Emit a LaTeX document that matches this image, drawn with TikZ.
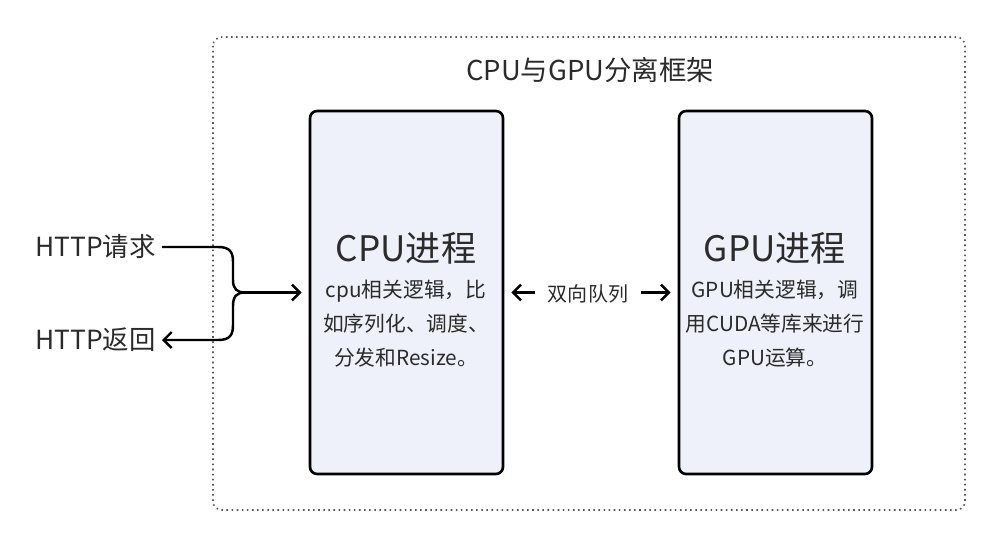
\documentclass[tikz,border=0pt]{standalone}
\usepackage{fontspec}
\setmainfont{Noto Sans CJK SC}
\usetikzlibrary{arrows.meta,positioning,calc}

\definecolor{procfill}{HTML}{EEF0FA}
\definecolor{txt}{HTML}{2B2B2B}

\tikzset{
    proc/.style={draw=black, line width=1.5pt, rounded corners=4pt, fill=procfill,
        minimum width=3.86cm, minimum height=7.26cm},
    conn/.style={line width=1.4pt, -{Straight Barb[length=4.5pt,width=9pt]}},
    link/.style={line width=1.4pt},
    frame/.style={draw=black!65, dotted, line width=0.9pt, rounded corners=5pt},
}

\begin{document}
\begin{tikzpicture}[x=0.02cm, y=-0.02cm, text=txt]
        \useasboundingbox (0,0) rectangle (999,547);

        % outer frame
        \draw[frame] (213,37) rectangle (965,510);
        \node [font=\fontsize{15.6}{18}\selectfont] (title) at (590,70) {CPU与GPU分离框架};

        % process boxes
        \node [proc] (cpu) at (406.5,292.5) {};
        \node [proc] (gpu) at (775.5,292.5) {};

        \node [font=\fontsize{20}{24}\selectfont] (cputitle) at (406,248) {CPU进程};
        \node [font=\fontsize{11.8}{19.3}\selectfont, align=center] (cputext) at (406,324)
            {cpu相关逻辑，比\\如序列化、调度、\\分发和Resize。};
        \node [font=\fontsize{20}{24}\selectfont] (gputitle) at (775,248) {GPU进程};
        \node [font=\fontsize{11.8}{19.3}\selectfont, align=center] (gputext) at (775,324)
            {GPU相关逻辑，调\\用CUDA等库来进行\\GPU运算。};

        % queue between the two
        \node [font=\fontsize{11.4}{14}\selectfont, inner xsep=13*0.02cm] (queue) at (588,294) {双向队列};
        \draw[conn, shorten >=0.14cm] (queue.west |- cpu.east) -- (cpu.east);
        \draw[conn, shorten >=0.14cm] (queue.east |- gpu.west) -- (gpu.west);

        % http request / return
        \node [font=\fontsize{15}{18}\selectfont, anchor=east, inner xsep=0.12cm] (req) at (162,247) {HTTP请求};
        \node [font=\fontsize{15}{18}\selectfont, anchor=east, inner xsep=0.12cm] (ret) at (162,340) {HTTP返回};
        \coordinate (jn) at (245,292.5);

        \draw[link] (req.east) -- (218,247) .. controls (230,247) and (233,252) .. (233,262)
            -- (233,280) .. controls (233,289) and (237,292.5) .. (jn);
        \draw[conn, shorten >=0.14cm] (jn) -- (cpu.west);
        \draw[conn] (jn) .. controls (237,292.5) and (233,296) .. (233,306)
            -- (233,325) .. controls (233,335) and (230,340) .. (218,340) -- (ret.east);
    \end{tikzpicture}
\end{document}
